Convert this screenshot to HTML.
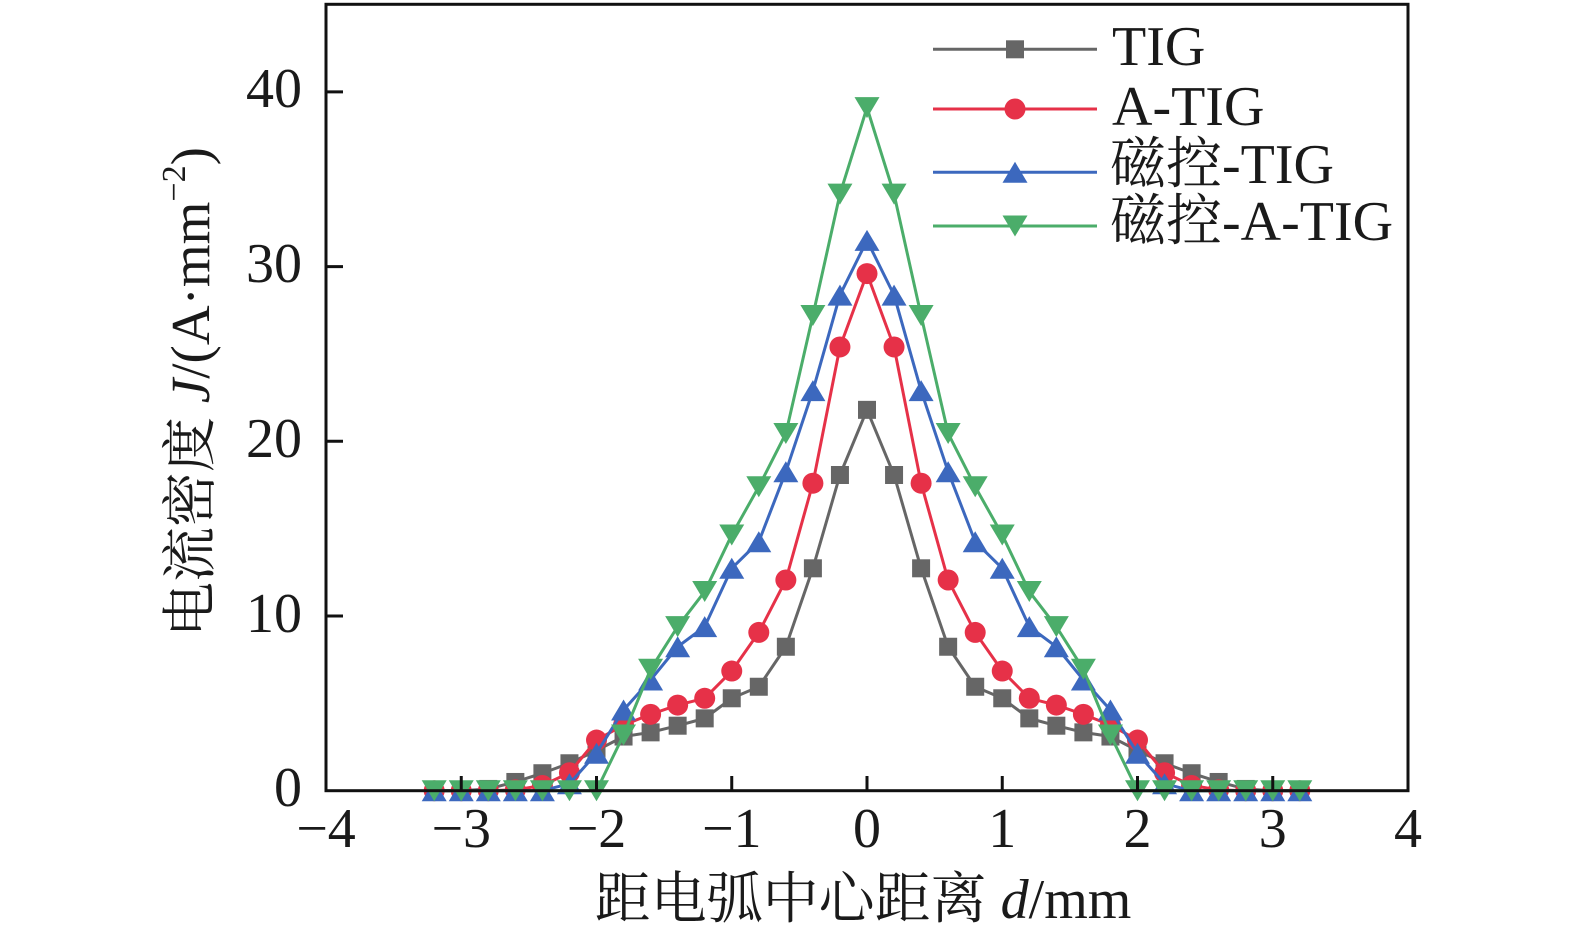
<!DOCTYPE html>
<html><head><meta charset="utf-8"><style>
html,body{margin:0;padding:0;background:#fff;}
svg{display:block;}
text{font-family:"Liberation Serif","Noto Serif CJK SC","Noto Sans CJK SC",serif;fill:#1a1a1a;}
</style></head><body>
<svg width="1575" height="945" viewBox="0 0 1575 945" xmlns="http://www.w3.org/2000/svg">
<defs>
<marker id="mSq" markerUnits="userSpaceOnUse" markerWidth="20" markerHeight="20" refX="10" refY="10" overflow="visible"><rect x="1" y="1" width="18" height="18" fill="#666666"/></marker>
<marker id="mCi" markerUnits="userSpaceOnUse" markerWidth="20" markerHeight="20" refX="10" refY="10" overflow="visible"><circle cx="10" cy="10" r="10.5" fill="#E63148"/></marker>
<marker id="mUp" markerUnits="userSpaceOnUse" markerWidth="20" markerHeight="20" refX="10" refY="10" overflow="visible"><polygon points="10,-0.5 -2.5,20.5 22.5,20.5" fill="#3C68BE"/></marker>
<marker id="mDn" markerUnits="userSpaceOnUse" markerWidth="20" markerHeight="20" refX="10" refY="10" overflow="visible"><polygon points="-2.5,-0.5 22.5,-0.5 10,20.5" fill="#4BAD6A"/></marker>
</defs>

<!-- series -->
<g fill="none" stroke-width="3" stroke-linejoin="round">
<polyline stroke="#666666" marker-start="url(#mSq)" marker-mid="url(#mSq)" marker-end="url(#mSq)" points="434.2,790.7 461.25,790.7 488.3,788.95 515.35,781.97 542.4,773.23 569.45,763.27 596.5,750.52 623.55,736.54 650.6,732.35 677.65,725.71 704.7,718.37 731.75,698.28 758.8,686.75 785.85,646.75 812.9,568.3 839.95,475 867,409.85 894.05,475 921.1,568.3 948.15,646.75 975.2,686.75 1002.25,698.28 1029.3,718.37 1056.35,725.71 1083.4,732.35 1110.45,736.54 1137.5,750.52 1164.55,763.27 1191.6,773.23 1218.65,781.97 1245.7,788.95 1272.75,790.7 1299.8,790.7"/>
<polyline stroke="#E63148" marker-start="url(#mCi)" marker-mid="url(#mCi)" marker-end="url(#mCi)" points="434.2,790.7 461.25,790.7 488.3,790.7 515.35,789.83 542.4,785.46 569.45,772.71 596.5,740.04 623.55,725.01 650.6,714.36 677.65,705.1 704.7,698.28 731.75,671.03 758.8,632.42 785.85,580.01 812.9,483.23 839.95,346.96 867,273.59 894.05,346.96 921.1,483.23 948.15,580.01 975.2,632.42 1002.25,671.03 1029.3,698.28 1056.35,705.1 1083.4,714.36 1110.45,725.01 1137.5,740.04 1164.55,772.71 1191.6,785.46 1218.65,789.83 1245.7,790.7 1272.75,790.7 1299.8,790.7"/>
<polyline stroke="#3C68BE" marker-start="url(#mUp)" marker-mid="url(#mUp)" marker-end="url(#mUp)" points="434.2,790.7 461.25,790.7 488.3,790.7 515.35,790.7 542.4,790.7 569.45,783.71 596.5,753.31 623.55,710 650.6,679.94 677.65,646.75 704.7,626.66 731.75,568.3 758.8,541.75 785.85,471.7 812.9,390.64 839.95,295.07 867,240.4 894.05,295.07 921.1,390.64 948.15,471.7 975.2,541.75 1002.25,568.3 1029.3,626.66 1056.35,646.75 1083.4,679.94 1110.45,710 1137.5,753.31 1164.55,783.71 1191.6,790.7 1218.65,790.7 1245.7,790.7 1272.75,790.7 1299.8,790.7"/>
<polyline stroke="#4BAD6A" marker-start="url(#mDn)" marker-mid="url(#mDn)" marker-end="url(#mDn)" points="434.2,790.7 461.25,790.7 488.3,790.7 515.35,790.7 542.4,790.7 569.45,790.7 596.5,790.7 623.55,734.97 650.6,669.28 677.65,626.66 704.7,591.54 731.75,534.94 758.8,486.72 785.85,433.44 812.9,315.52 839.95,194.1 867,107.63 894.05,194.1 921.1,315.52 948.15,433.44 975.2,486.72 1002.25,534.94 1029.3,591.54 1056.35,626.66 1083.4,669.28 1110.45,734.97 1137.5,790.7 1164.55,790.7 1191.6,790.7 1218.65,790.7 1245.7,790.7 1272.75,790.7 1299.8,790.7"/>
</g>

<!-- axes frame -->
<rect x="326" y="4.3" width="1082" height="786.4" fill="none" stroke="#111" stroke-width="3"/>
<!-- x ticks -->
<g stroke="#111" stroke-width="3">
<line x1="461.25" y1="790.7" x2="461.25" y2="776"/>
<line x1="596.5" y1="790.7" x2="596.5" y2="776"/>
<line x1="731.75" y1="790.7" x2="731.75" y2="776"/>
<line x1="867" y1="790.7" x2="867" y2="776"/>
<line x1="1002.25" y1="790.7" x2="1002.25" y2="776"/>
<line x1="1137.5" y1="790.7" x2="1137.5" y2="776"/>
<line x1="1272.75" y1="790.7" x2="1272.75" y2="776"/>
<!-- y ticks -->
<line x1="326" y1="616" x2="343" y2="616"/>
<line x1="326" y1="441.3" x2="343" y2="441.3"/>
<line x1="326" y1="266.6" x2="343" y2="266.6"/>
<line x1="326" y1="91.9" x2="343" y2="91.9"/>
</g>

<!-- x tick labels -->
<g font-size="56" text-anchor="middle">
<text x="326" y="847">−4</text>
<text x="461.25" y="847">−3</text>
<text x="596.5" y="847">−2</text>
<text x="731.75" y="847">−1</text>
<text x="867" y="847">0</text>
<text x="1002.25" y="847">1</text>
<text x="1137.5" y="847">2</text>
<text x="1272.75" y="847">3</text>
<text x="1408" y="847">4</text>
</g>
<!-- y tick labels -->
<g font-size="56" text-anchor="end">
<text x="302" y="806">0</text>
<text x="302" y="632">10</text>
<text x="302" y="457">20</text>
<text x="302" y="282">30</text>
<text x="302" y="107">40</text>
</g>

<!-- x axis title -->
<text x="863" y="918" font-size="56" text-anchor="middle">距电弧中心距离 <tspan font-style="italic">d</tspan>/mm</text>

<!-- y axis title -->
<text transform="translate(209,392) rotate(-90)" font-size="55" text-anchor="middle">电流密度 <tspan font-style="italic">J</tspan>/(A·mm<tspan font-size="34" dy="-24">−2</tspan><tspan dy="24">)</tspan></text>

<!-- legend -->
<g stroke-width="3">
<line x1="933" y1="49.3" x2="1097" y2="49.3" stroke="#666666"/>
<line x1="933" y1="109" x2="1097" y2="109" stroke="#E63148"/>
<line x1="933" y1="172.3" x2="1097" y2="172.3" stroke="#3C68BE"/>
<line x1="933" y1="226" x2="1097" y2="226" stroke="#4BAD6A"/>
</g>
<rect x="1006" y="40.3" width="18" height="18" fill="#666666"/>
<circle cx="1015" cy="109" r="10.5" fill="#E63148"/>
<polygon points="1015,161.8 1002.5,182.8 1027.5,182.8" fill="#3C68BE"/>
<polygon points="1002.5,215.5 1027.5,215.5 1015,236.5" fill="#4BAD6A"/>
<g font-size="56">
<text x="1112" y="65">TIG</text>
<text x="1112" y="125">A-TIG</text>
<text x="1110" y="183">磁控-TIG</text>
<text x="1110" y="240">磁控-A-TIG</text>
</g>
</svg>
</body></html>
